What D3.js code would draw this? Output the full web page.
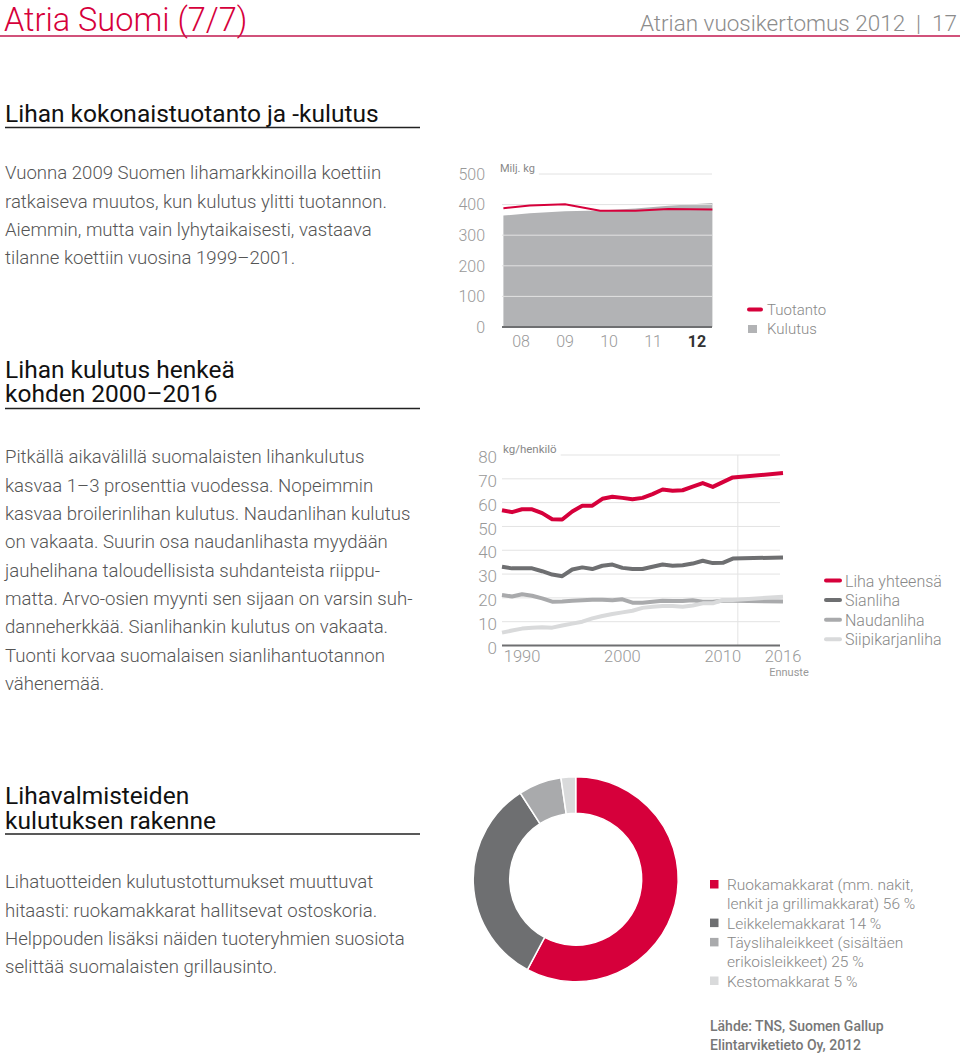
<!DOCTYPE html>
<html>
<head>
<meta charset="utf-8">
<script src="https://cdn.jsdelivr.net/npm/d3@7"></script>
<style>
  html, body { margin: 0; padding: 0; background: #fff; }
  svg { display: block; font-family: Roboto, "DejaVu Sans", sans-serif; }
</style>
</head>
<body>
<svg id="chart" width="960" height="1054"></svg>
<script>
// ---------------- DATA ----------------
const pageTitle = "Atria Suomi (7/7)";
const pageRight = "Atrian vuosikertomus 2012  |  17";

const heading1 = ["Lihan kokonaistuotanto ja -kulutus"];
const para1 = [
  "Vuonna 2009 Suomen lihamarkkinoilla koettiin",
  "ratkaiseva muutos, kun kulutus ylitti tuotannon.",
  "Aiemmin, mutta vain lyhytaikaisesti, vastaava",
  "tilanne koettiin vuosina 1999–2001."
];
const heading2 = ["Lihan kulutus henkeä", "kohden 2000–2016"];
const para2 = [
  "Pitkällä aikavälillä suomalaisten lihankulutus",
  "kasvaa 1–3 prosenttia vuodessa. Nopeimmin",
  "kasvaa broilerinlihan kulutus. Naudanlihan kulutus",
  "on vakaata. Suurin osa naudanlihasta myydään",
  "jauhelihana taloudellisista suhdanteista riippu-",
  "matta. Arvo-osien myynti sen sijaan on varsin suh-",
  "danneherkkää. Sianlihankin kulutus on vakaata.",
  "Tuonti korvaa suomalaisen sianlihantuotannon",
  "vähenemää."
];
const heading3 = ["Lihavalmisteiden", "kulutuksen rakenne"];
const para3 = [
  "Lihatuotteiden kulutustottumukset muuttuvat",
  "hitaasti: ruokamakkarat hallitsevat ostoskoria.",
  "Helppouden lisäksi näiden tuoteryhmien suosiota",
  "selittää suomalaisten grillausinto."
];

// Chart 1: total production & consumption (million kg)
const c1Years = [2007.6, 2008.2, 2009.0, 2009.8, 2010.6, 2011.35, 2012.35];
const c1Production = [388, 397, 401, 380, 380, 386, 384];
const c1Consumption = [364, 372, 378, 381, 387, 396, 405];
const c1YTicks = [0, 100, 200, 300, 400, 500];
const c1XTicks = [2008, 2009, 2010, 2011, 2012];
const c1XLabels = ["08", "09", "10", "11", "12"];
const c1Unit = "Milj. kg";
const c1Legend = ["Tuotanto", "Kulutus"];

// Chart 2: per capita consumption (kg/person)
const c2Years = [1988, 1989, 1990, 1991, 1992, 1993, 1994, 1995, 1996, 1997, 1998, 1999,
  2000, 2001, 2002, 2003, 2004, 2005, 2006, 2007, 2008, 2009, 2010, 2011, 2016];
const lihaYhteensa = [56.8, 56.0, 57.2, 57.2, 55.6, 53.0, 52.9, 56.3, 58.7, 58.7, 61.6, 62.5,
  62.0, 61.4, 62.0, 63.6, 65.5, 65.0, 65.2, 66.7, 68.2, 66.6, 68.6, 70.6, 72.4];
const sianliha = [33.1, 32.4, 32.4, 32.4, 31.2, 29.8, 29.1, 31.9, 32.8, 32.1, 33.5, 34.0,
  32.6, 32.1, 32.1, 33.1, 34.0, 33.5, 33.7, 34.4, 35.6, 34.6, 34.7, 36.5, 37.0];
const naudanliha = [21.2, 20.6, 21.5, 20.9, 19.8, 18.4, 18.5, 18.8, 19.0, 19.2, 19.2, 19.0,
  19.4, 18.0, 18.0, 18.4, 18.8, 18.7, 18.7, 19.0, 18.4, 18.4, 18.8, 18.8, 18.5];
const siipikarjanliha = [5.4, 6.3, 7.1, 7.5, 7.7, 7.5, 8.4, 9.2, 10.0, 11.4, 12.4, 13.2,
  13.9, 14.6, 15.8, 16.3, 16.6, 16.6, 16.3, 16.8, 17.7, 17.7, 19.1, 19.1, 20.5];
const c2SeriesNames = ["Liha yhteensä", "Sianliha", "Naudanliha", "Siipikarjanliha"];
const c2YTicks = [0, 10, 20, 30, 40, 50, 60, 70, 80];
const c2XTicks = [1990, 2000, 2010, 2016];
const c2ForecastYear = 2011.5;
const c2Unit = "kg/henkilö";
const c2ForecastLabel = "Ennuste";

// Donut: processed meat consumption structure (slice shares)
const donutLegend = [
  ["Ruokamakkarat (mm. nakit,", "lenkit ja grillimakkarat) 56 %"],
  ["Leikkelemakkarat 14 %"],
  ["Täyslihaleikkeet (sisältäen", "erikoisleikkeet) 25 %"],
  ["Kestomakkarat 5 %"]
];
const donutValues = [57.8, 33.1, 6.8, 2.3];
const sourceLines = ["Lähde: TNS, Suomen Gallup", "Elintarviketieto Oy, 2012"];

// ---------------- STYLE ----------------
const RED = "#d6003b";
const DARK = "#6e6f71";
const MID = "#a9aaac";
const LIGHT = "#d9dadb";
const AREA = "#b2b3b5";
const TXT = "#555";
const AX = "#999";

const svg = d3.select("#chart");

// ---------------- HEADER ----------------
svg.append("text").attr("x", 4).attr("y", 31).attr("fill", RED)
  .attr("font-size", 32.5).attr("font-weight", 300).text(pageTitle);
svg.append("text").attr("x", 957).attr("y", 31).attr("text-anchor", "end").attr("fill", "#8c8c8c")
  .attr("font-size", 22.5).attr("font-weight", 300).attr("xml:space", "preserve").text(pageRight);
svg.append("line").attr("x1", 0).attr("x2", 960).attr("y1", 36).attr("y2", 36)
  .attr("stroke", "#c2184f").attr("stroke-width", 1.3);

// ---------------- TEXT BLOCKS ----------------
function heading(lines, y0, lineH, ruleY) {
  const g = svg.append("g");
  const t = g.append("text").attr("x", 5).attr("y", y0)
    .attr("fill", "#111").attr("font-size", 24.5).attr("font-weight", 400);
  lines.forEach((s, i) => t.append("tspan").attr("x", 5).attr("y", y0 + i * lineH).text(s));
  g.append("line").attr("x1", 5).attr("x2", 420).attr("y1", ruleY).attr("y2", ruleY)
    .attr("stroke", "#222").attr("stroke-width", 1.3);
}
function para(lines, y0) {
  const g = svg.append("g");
  lines.forEach((t, i) => g.append("text").attr("x", 5).attr("y", y0 + i * 28.35)
    .attr("fill", TXT).attr("font-size", 18.6).attr("font-weight", 300).text(t));
}
heading(heading1, 121.5, 0, 127.5);
para(para1, 179.3);
heading(heading2, 377.5, 24.5, 408.5);
para(para2, 463.3);
heading(heading3, 804, 25.3, 834);
para(para3, 888.3);

// ---------------- CHART 1 ----------------
{
  const x = d3.scaleLinear().domain([2008, 2012]).range([521, 697]);
  const y = d3.scaleLinear().domain([0, 500]).range([327, 174]);
  const left = 502, right = 712;
  const g = svg.append("g");
  const pts = c1Years.map((yr, i) => ({ yr, p: c1Production[i], c: c1Consumption[i] }));
  g.append("path").datum(pts)
    .attr("d", d3.area().x(d => x(d.yr)).y0(y(0)).y1(d => y(d.c)))
    .attr("fill", AREA);
  const unit = g.append("text").attr("x", 500).attr("y", 172).attr("fill", "#888")
    .attr("font-size", 11).attr("font-weight", 400).text(c1Unit);
  const unitEnd = 500 + unit.node().getComputedTextLength() + 4;
  c1YTicks.forEach(v => {
    if (v > 0) g.append("line").attr("x1", v === 500 ? unitEnd : left).attr("x2", right)
      .attr("y1", y(v)).attr("y2", y(v)).attr("stroke", "#e2e2e2").attr("stroke-width", 1);
    g.append("text").attr("x", 485).attr("y", y(v)).attr("dy", "0.36em")
      .attr("text-anchor", "end").attr("fill", AX).attr("font-size", 16).attr("font-weight", 300).text(v);
  });
  g.append("path").datum(pts)
    .attr("d", d3.line().x(d => x(d.yr)).y(d => y(d.p)))
    .attr("fill", "none").attr("stroke", RED).attr("stroke-width", 2);
  g.append("line").attr("x1", left).attr("x2", right).attr("y1", y(0)).attr("y2", y(0))
    .attr("stroke", DARK).attr("stroke-width", 2.2);
  c1XTicks.forEach((t, i) => {
    const last = i === c1XTicks.length - 1;
    g.append("text").attr("x", x(t)).attr("y", 346.5).attr("text-anchor", "middle")
      .attr("fill", last ? "#333" : AX).attr("font-size", 16).attr("font-weight", last ? 700 : 300)
      .text(c1XLabels[i]);
  });
  // legend
  g.append("line").attr("x1", 749).attr("x2", 761).attr("y1", 309.5).attr("y2", 309.5)
    .attr("stroke", RED).attr("stroke-width", 4).attr("stroke-linecap", "round");
  g.append("rect").attr("x", 748).attr("y", 325).attr("width", 9).attr("height", 8).attr("fill", AREA);
  c1Legend.forEach((t, i) => g.append("text").attr("x", 767).attr("y", 315 + i * 19)
    .attr("fill", "#888").attr("font-size", 15).attr("font-weight", 300).text(t));
}

// ---------------- CHART 2 ----------------
{
  const x = d3.scaleLinear().domain([1988, 2016]).range([502, 783]);
  const y = d3.scaleLinear().domain([0, 80]).range([645.5, 455]);
  const left = 502, right = 780;
  const g = svg.append("g");
  const unit = g.append("text").attr("x", 503).attr("y", 453).attr("fill", "#888")
    .attr("font-size", 11.5).attr("font-weight", 400).text(c2Unit);
  const unitEnd = 503 + unit.node().getComputedTextLength() + 4;
  c2YTicks.forEach(v => {
    if (v > 0) g.append("line").attr("x1", v === 80 ? unitEnd : left).attr("x2", right)
      .attr("y1", y(v)).attr("y2", y(v)).attr("stroke", "#e3e3e3").attr("stroke-width", 1);
    g.append("text").attr("x", 497).attr("y", y(v) + 2).attr("dy", "0.36em")
      .attr("text-anchor", "end").attr("fill", AX).attr("font-size", 17).attr("font-weight", 300).text(v);
  });
  g.append("line").attr("x1", x(c2ForecastYear)).attr("x2", x(c2ForecastYear))
    .attr("y1", y(80)).attr("y2", y(0)).attr("stroke", "#e3e3e3").attr("stroke-width", 1);
  const series = [
    { vals: naudanliha, color: MID },
    { vals: siipikarjanliha, color: LIGHT },
    { vals: sianliha, color: DARK },
    { vals: lihaYhteensa, color: RED }
  ];
  const line = d3.line().x((d, i) => x(c2Years[i])).y(d => y(d));
  series.forEach(s => g.append("path").datum(s.vals).attr("d", line)
    .attr("fill", "none").attr("stroke", s.color).attr("stroke-width", 4)
    .attr("stroke-linejoin", "round").attr("stroke-linecap", "butt"));
  g.append("line").attr("x1", left).attr("x2", right).attr("y1", y(0)).attr("y2", y(0))
    .attr("stroke", DARK).attr("stroke-width", 2.2);
  c2XTicks.forEach(t => g.append("text").attr("x", x(t)).attr("y", 662).attr("text-anchor", "middle")
    .attr("fill", AX).attr("font-size", 16.5).attr("font-weight", 300).text(t));
  g.append("text").attr("x", x(2016) + 6).attr("y", 676).attr("text-anchor", "middle")
    .attr("fill", AX).attr("font-size", 11).attr("font-weight", 400).text(c2ForecastLabel);
  // legend
  const legColors = [RED, DARK, MID, LIGHT];
  c2SeriesNames.forEach((n, i) => {
    const ly = 580.5 + i * 19.6;
    g.append("line").attr("x1", 826).attr("x2", 840).attr("y1", ly).attr("y2", ly)
      .attr("stroke", legColors[i]).attr("stroke-width", 4).attr("stroke-linecap", "round");
    g.append("text").attr("x", 845).attr("y", ly + 6).attr("fill", "#888")
      .attr("font-size", 16).attr("font-weight", 300).text(n);
  });
}

// ---------------- DONUT ----------------
{
  const cx = 575.7, cy = 879.2;
  const g = svg.append("g").attr("transform", `translate(${cx},${cy})`);
  const pie = d3.pie().sort(null).value(d => d);
  const arc = d3.arc().innerRadius(66).outerRadius(102.5);
  const colors = [RED, DARK, MID, LIGHT];
  g.selectAll("path").data(pie(donutValues)).join("path")
    .attr("d", arc).attr("fill", (d, i) => colors[i])
    .attr("stroke", "#fff").attr("stroke-width", 1.5);

  const lg = svg.append("g");
  let row = 0;
  donutLegend.forEach((lines, i) => {
    const by = 890 + row * 19.3;
    lg.append("rect").attr("x", 710).attr("y", by - 10).attr("width", 8.5).attr("height", 8.5)
      .attr("fill", colors[i]);
    lines.forEach((t, j) => lg.append("text").attr("x", 727).attr("y", by + j * 19.3)
      .attr("fill", "#888").attr("font-size", 15.5).attr("font-weight", 300).text(t));
    row += lines.length;
  });
  sourceLines.forEach((t, i) => lg.append("text").attr("x", 710).attr("y", 1031 + i * 19)
    .attr("fill", "#777").attr("font-size", 14).attr("font-weight", 500).text(t));
}
</script>
</body>
</html>
